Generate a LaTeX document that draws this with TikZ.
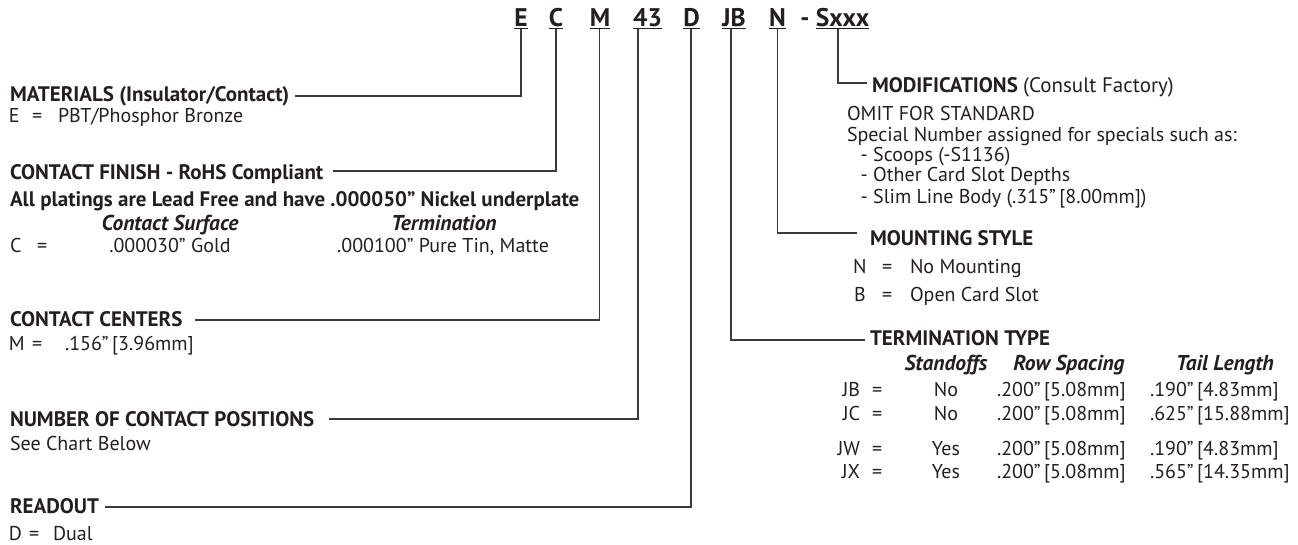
\documentclass[tikz,border=0pt]{standalone}
\usepackage{fontspec}
\setmainfont{PT Sans}
\definecolor{ink}{HTML}{231F20}
\definecolor{wire}{HTML}{3A3A3A}
\begin{document}
\begin{tikzpicture}[x=1pt,y=-1pt,
  every node/.style={inner sep=0pt,outer sep=0pt,text=ink},
  code/.style={font=\fontsize{25.5}{25.5}\selectfont\bfseries,anchor=base},
  hdr/.style={font=\fontsize{21}{23}\selectfont\bfseries,anchor=base west},
  txt/.style={font=\fontsize{20}{22}\selectfont,anchor=base west},
  txtc/.style={font=\fontsize{20}{22}\selectfont,anchor=base},
  colhd/.style={font=\fontsize{21.5}{23}\selectfont\bfseries\itshape,anchor=base},
  conn/.style={draw=wire,line width=1.1pt},
  uline/.style={draw=ink,line width=1.5pt}]
\useasboundingbox (0,0) rectangle (1298,544);

% ---- part number code ----
\node[code] (cE)   at (521,26)   {E};
\node[code] (cC)   at (556,26)   {C};
\node[code] (cM)   at (600,26)   {M};
\node[code] (c43)  at (647.5,26) {43};
\node[code] (cD)   at (691.5,26) {D};
\node[code] (cJB)  at (734,26)   {JB};
\node[code] (cN)   at (777.5,26) {N};
\node[code] (cdash) at (805,26)  {-};
\node[code] (cS)   at (842.5,26) {Sxxx};
\foreach \n in {cE,cC,cM,c43,cD,cJB,cN,cS}
  \draw[uline] ([yshift=-2.6pt]\n.base west) -- ([yshift=-2.6pt]\n.base east);

% ---- left column ----
\node[hdr] (matl) at (10,101.7) {MATERIALS (Insulator/Contact)};
\node[txt] (matlK) at (9,122.7) {E};
\node[txt] (matlQ) at (32,122.7) {=};
\node[txt] (matlV) at (58,122.7) {PBT/Phosphor Bronze};

\node[hdr] (fin) at (10,179.3) {CONTACT FINISH - RoHS Compliant};
\node[hdr] (plat) at (10,206.7) {All platings are Lead Free and have .000050” Nickel underplate};
\node[colhd] (csurf) at (170,230) {Contact Surface};
\node[colhd] (cterm) at (444,230) {Termination};
\node[txt] (finK) at (10,252.7) {C};
\node[txt] (finQ) at (37,252.7) {=};
\node[txtc] (gold) at (170,252.7) {.000030” Gold};
\node[txtc] (tin) at (443,252.7) {.000100” Pure Tin, Matte};

\node[hdr] (ctr) at (10,326.7) {CONTACT CENTERS};
\node[txt] (ctrK) at (9,350) {M};
\node[txt] (ctrQ) at (32,350) {=};
\node[txt] (ctrV) at (65,350) {.156”\,[3.96mm]};

\node[hdr] (num) at (10,426) {NUMBER OF CONTACT POSITIONS};
\node[txt] (numV) at (10,450.7) {See Chart Below};

\node[hdr] (rd) at (10,513) {READOUT};
\node[txt] (rdK) at (9,540) {D};
\node[txt] (rdQ) at (29,540) {=};
\node[txt] (rdV) at (53,540) {Dual};

% ---- right column ----
\node[hdr] (mods) at (872,92.3) {MODIFICATIONS \mdseries(Consult Factory)};
\node[txt] (omit) at (847,120) {OMIT FOR STANDARD};
\node[txt] (spec) at (847,141) {Special Number assigned for specials such as:};
\node[txt] (sp1) at (860.7,161.7) {- Scoops (-S1136)};
\node[txt] (sp2) at (860.7,181.7) {- Other Card Slot Depths};
\node[txt] (sp3) at (860.7,203.3) {- Slim Line Body (.315”\,[8.00mm])};

\node[hdr] (mnt) at (870,245) {MOUNTING STYLE};
\node[txt] (mnK1) at (853,273) {N};
\node[txt] (mnQ1) at (882,273) {=};
\node[txt] (mnV1) at (910,273) {No Mounting};
\node[txt] (mnK2) at (854,301) {B};
\node[txt] (mnQ2) at (882,301) {=};
\node[txt] (mnV2) at (910,301) {Open Card Slot};

\node[hdr] (term) at (870,345) {TERMINATION TYPE};
\node[colhd] (hSO) at (946,370) {Standoffs};
\node[colhd] (hRS) at (1069,370) {Row Spacing};
\node[colhd] (hTL) at (1225,370) {Tail Length};
\foreach \k/\y/\so/\tl [count=\i] in
  {JB/396.7/No/.190”\,[4.83mm], JC/420/No/.625”\,[15.88mm],
   JW/455/Yes/.190”\,[4.83mm], JX/478.3/Yes/.565”\,[14.35mm]} {
  \node[txt,anchor=base east] (tK\i) at (860,\y) {\k};
  \node[txt] (tQ\i) at (872,\y) {=};
  \node[txtc] (tS\i) at (946,\y) {\so};
  \node[txt] (tR\i) at (997,\y) {.200”\,[5.08mm]};
  \node[txt] (tT\i) at (1150,\y) {\tl};
}

% ---- connectors ----
\draw[conn] ([yshift=-3pt]cE.base) |- ([xshift=6pt,yshift=5.7pt]matl.base east);
\draw[conn] ([yshift=-3pt]cC.base) |- ([xshift=10pt,yshift=8.3pt]fin.base east);
\draw[conn] ([xshift=-0.7pt,yshift=-3pt]cM.base) |- ([xshift=13pt,yshift=6.7pt]ctr.base east);
\draw[conn] ([xshift=-9.5pt,yshift=-3pt]c43.base) |- ([xshift=15pt,yshift=7pt]num.base east);
\draw[conn] ([xshift=-0.5pt,yshift=-3pt]cD.base) |- ([xshift=6pt,yshift=6pt]rd.base east);
\draw[conn] ([xshift=-3pt,yshift=-3pt]cJB.base) |- ([xshift=-5pt,yshift=5pt]term.base west);
\draw[conn] ([yshift=-3pt]cN.base) |- ([xshift=-13pt,yshift=12pt]mnt.base west);
\draw[conn] ([xshift=-4.5pt,yshift=-3pt]cS.base) |- ([xshift=-5pt,yshift=9.3pt]mods.base west);
\end{tikzpicture}
\end{document}
